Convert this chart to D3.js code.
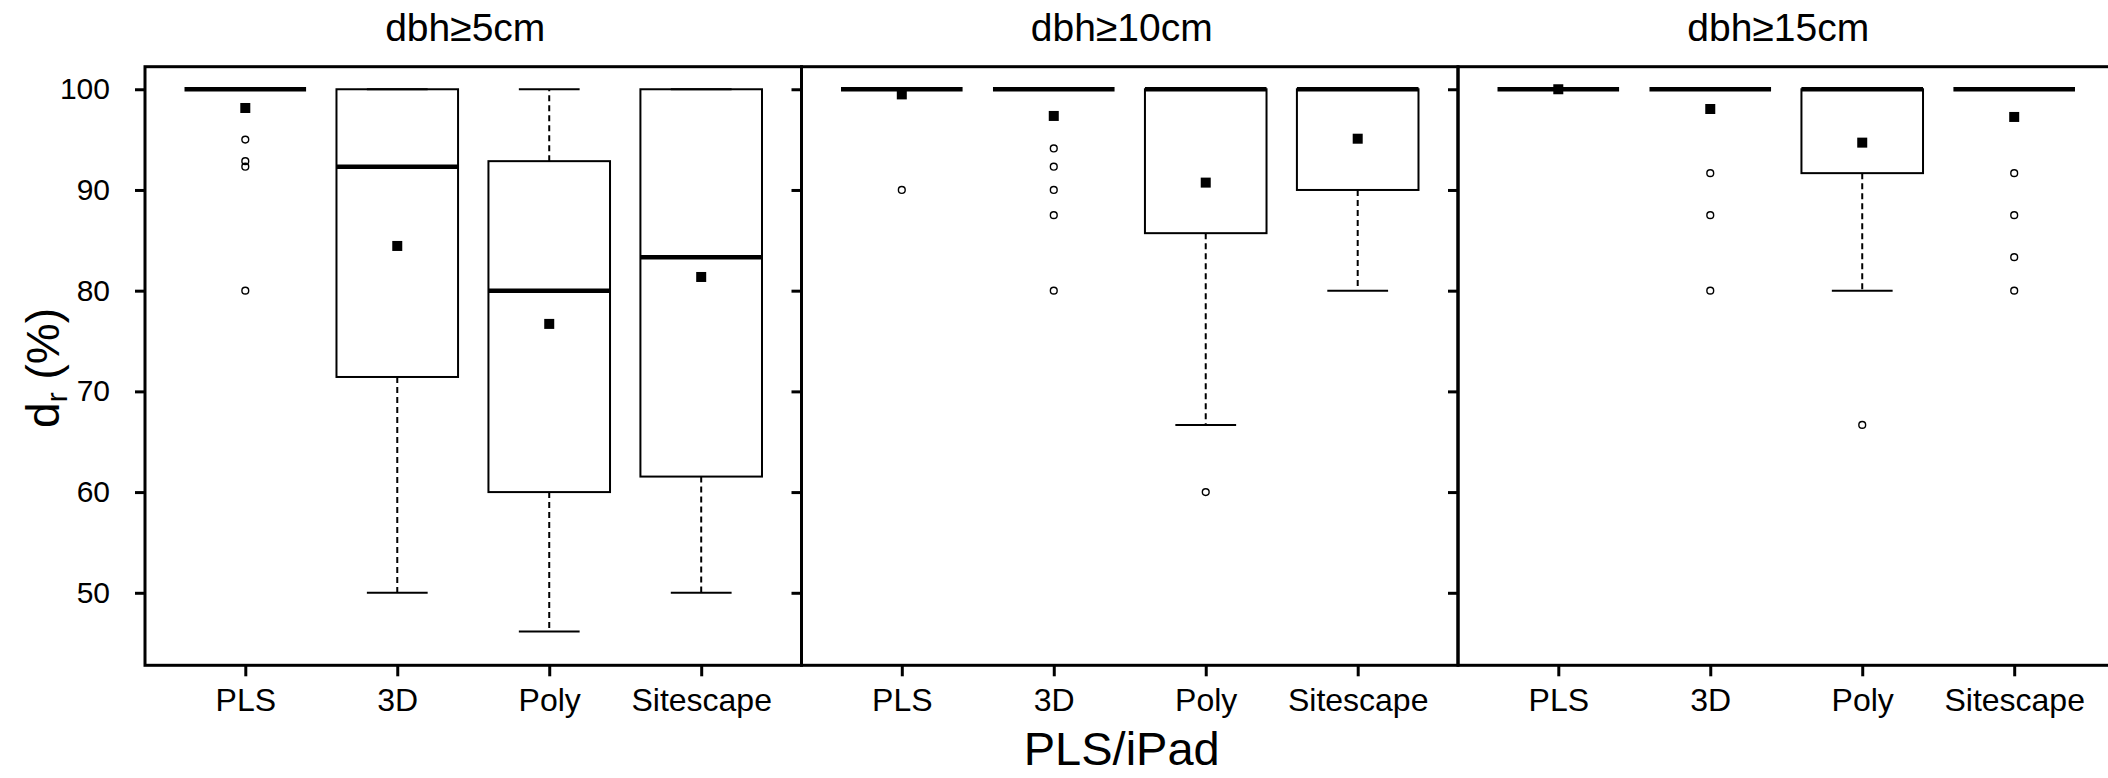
<!DOCTYPE html>
<html>
<head>
<meta charset="utf-8">
<script src="https://cdn.jsdelivr.net/npm/d3@7"></script>
<style>
  html, body { margin: 0; padding: 0; background: #fff; }
  svg { display: block; }
  text { font-family: "Liberation Sans", Arial, Helvetica, sans-serif; fill: #000; }
</style>
</head>
<body>
<script>
// ---------- data ----------
const panels = ["dbh≥5cm", "dbh≥10cm", "dbh≥15cm"];
const categories = ["PLS", "3D", "Poly", "Sitescape"];
const yTicks = [50, 60, 70, 80, 90, 100];

const whiskerLow  = [[100, 50, 46.15, 50],   [100, 100, 66.67, 80],  [100, 100, 80, 100]];
const q1          = [[100, 71.43, 60, 61.54],[100, 100, 85.71, 90],  [100, 100, 91.67, 100]];
const medians     = [[100, 92.31, 80, 83.33],[100, 100, 100, 100],   [100, 100, 100, 100]];
const q3          = [[100, 100, 92.86, 100], [100, 100, 100, 100],   [100, 100, 100, 100]];
const whiskerHigh = [[100, 100, 100, 100],   [100, 100, 100, 100],   [100, 100, 100, 100]];
const means       = [[98.14, 84.44, 76.7, 81.36], [99.49, 97.35, 90.73, 95.09], [100, 98.04, 94.7, 97.25]];
const outliers = [
  [[95, 92.86, 92.31, 80], [], [], []],
  [[90], [94.12, 92.31, 90, 87.5, 80], [60], []],
  [[], [91.67, 87.5, 80], [66.67], [91.67, 87.5, 83.33, 80]]
];

const xLabel = "PLS/iPad";

// ---------- layout ----------
const W = 2108, H = 778;
const plotTop = 66.7, plotBottom = 665.3;
const panelLeft0 = 145, panelW = 656.5;

const svg = d3.select("body").append("svg").attr("width", W).attr("height", H);
svg.append("rect").attr("width", W).attr("height", H).attr("fill", "#fff");

const y = d3.scaleLinear().domain([42.8, 102.24]).range([plotBottom, plotTop]);

panels.forEach((title, p) => {
  const x0 = panelLeft0 + p * panelW;
  const x = d3.scaleLinear().domain([0.34, 4.66]).range([x0, x0 + panelW]);
  const unit = x(1) - x(0);
  const boxW = 0.8 * unit, capW = 0.4 * unit;
  const g = svg.append("g");

  // y axis
  const ya = d3.axisLeft(y).tickValues(yTicks).tickSize(10).tickPadding(25)
    .tickFormat(p === 0 ? d3.format("d") : () => "");
  const yg = g.append("g").attr("transform", `translate(${x0},0)`).call(ya);
  yg.select(".domain").remove();
  yg.selectAll(".tick line").attr("stroke", "#000").attr("stroke-width", 3);
  yg.selectAll(".tick text").style("font-size", "30px").attr("fill", "#000");

  // x axis
  const xa = d3.axisBottom(x).tickValues([1, 2, 3, 4]).tickSize(11).tickPadding(12)
    .tickFormat(d => categories[d - 1]);
  const xg = g.append("g").attr("transform", `translate(0,${plotBottom})`).call(xa);
  xg.select(".domain").remove();
  xg.selectAll(".tick line").attr("stroke", "#000").attr("stroke-width", 3);
  xg.selectAll(".tick text").style("font-size", "32px").attr("fill", "#000");

  // title
  g.append("text").attr("x", x0 + panelW / 2 - 8).attr("y", 40.5)
    .attr("text-anchor", "middle").style("font-size", "39px").text(title);

  categories.forEach((c, i) => {
    const cx = x(i + 1);
    // whiskers (dashed)
    [[q3[p][i], whiskerHigh[p][i]], [q1[p][i], whiskerLow[p][i]]].forEach(([a, b]) => {
      if (a !== b) {
        g.append("line").attr("x1", cx).attr("x2", cx).attr("y1", y(a)).attr("y2", y(b))
          .attr("stroke", "#000").attr("stroke-width", 2).attr("stroke-dasharray", "6,4");
      }
    });
    // caps
    [whiskerHigh[p][i], whiskerLow[p][i]].forEach(v => {
      g.append("line").attr("x1", cx - capW / 2).attr("x2", cx + capW / 2)
        .attr("y1", y(v)).attr("y2", y(v)).attr("stroke", "#000").attr("stroke-width", 2);
    });
    // box
    g.append("rect").attr("x", cx - boxW / 2).attr("width", boxW)
      .attr("y", y(q3[p][i])).attr("height", y(q1[p][i]) - y(q3[p][i]))
      .attr("fill", "none").attr("stroke", "#000").attr("stroke-width", 2);
    // median
    g.append("line").attr("x1", cx - boxW / 2).attr("x2", cx + boxW / 2)
      .attr("y1", y(medians[p][i])).attr("y2", y(medians[p][i]))
      .attr("stroke", "#000").attr("stroke-width", 4.5);
    // outliers
    outliers[p][i].forEach(v => {
      g.append("circle").attr("cx", cx).attr("cy", y(v)).attr("r", 3.4)
        .attr("fill", "none").attr("stroke", "#000").attr("stroke-width", 1.4);
    });
    // mean
    g.append("rect").attr("x", cx - 5).attr("y", y(means[p][i]) - 5)
      .attr("width", 10).attr("height", 10).attr("fill", "#000");
  });

  // frame
  g.append("rect").attr("x", x0).attr("y", plotTop).attr("width", panelW)
    .attr("height", plotBottom - plotTop).attr("fill", "none")
    .attr("stroke", "#000").attr("stroke-width", 3);
});

// x axis title
svg.append("text").attr("x", panelLeft0 + 1.5 * panelW - 8).attr("y", 765)
  .attr("text-anchor", "middle").style("font-size", "47px").text(xLabel);

// y axis title
const yt = svg.append("text")
  .attr("transform", `translate(59,${(plotTop + plotBottom) / 2 + 2}) rotate(-90)`)
  .attr("text-anchor", "middle").style("font-size", "46px");
yt.append("tspan").text("d");
yt.append("tspan").style("font-size", "30px").attr("dy", 8).text("r");
yt.append("tspan").attr("dy", -8).text(" (%)");
</script>
</body>
</html>
